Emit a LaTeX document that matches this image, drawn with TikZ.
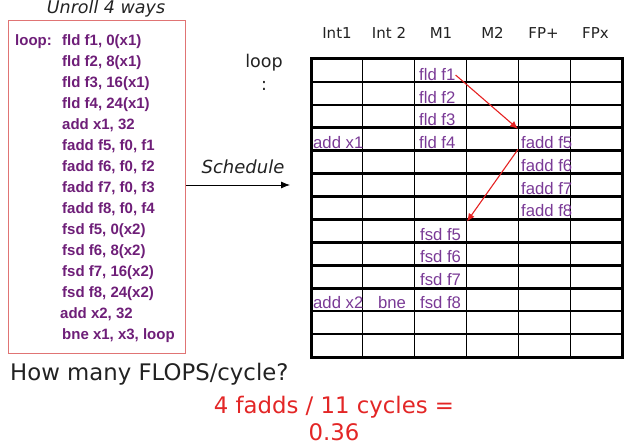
\documentclass[tikz,border=0pt]{standalone}
\usepackage{fontspec}
\setmainfont{Liberation Sans}
\newfontfamily\dvs{DejaVu Sans}
\usetikzlibrary{arrows.meta}
\definecolor{boxpurple}{HTML}{6E1E78}
\definecolor{cellpurple}{HTML}{7A3A96}
\definecolor{boxred}{HTML}{E07474}
\definecolor{arrred}{HTML}{E52222}
\definecolor{txtdark}{HTML}{222222}
\definecolor{ansred}{HTML}{E32626}
\begin{document}
\begin{tikzpicture}[x=1pt,y=-1pt,
  code/.style={anchor=base west, inner sep=0pt, text=boxpurple, font=\fontsize{15}{18}\selectfont\bfseries},
  cell/.style={anchor=base west, inner sep=0pt, text=cellpurple, font=\fontsize{16.7}{19}\selectfont},
  head/.style={anchor=base, inner sep=0pt, text=txtdark, font=\dvs\fontsize{15}{18}\selectfont},
  gridthin/.style={line width=1pt, black},
  gridthick/.style={line width=2.6pt, black},
  redarrow/.style={arrred, line width=1.1pt, -{Latex[length=8pt,width=7pt]}},
  blackarrow/.style={black, line width=0.8pt, -{Latex[length=9pt,width=7pt]}}]
\useasboundingbox (0,0) rectangle (630,444);

% left box
\node[draw=boxred, line width=1.1pt, minimum width=177pt, minimum height=333pt, anchor=north west, inner sep=0pt] (box) at (8,20) {};
\node[anchor=base, inner sep=0pt, text=txtdark, font=\dvs\itshape\fontsize{17.5}{20}\selectfont] (unroll) at (106,14) {Unroll 4 ways};

\node[code] (lp) at (15,45.5) {loop:};
\node[code] (i1) at (62,45.5) {fld f1, 0(x1)};
\node[code] (i2) at (62,66.5) {fld f2, 8(x1)};
\node[code] (i3) at (62,87.5) {fld f3, 16(x1)};
\node[code] (i4) at (62,108.5) {fld f4, 24(x1)};
\node[code] (i5) at (62,129.5) {add x1, 32};
\node[code] (i6) at (62,150.5) {fadd f5, f0, f1};
\node[code] (i7) at (62,171.5) {fadd f6, f0, f2};
\node[code] (i8) at (62,192.5) {fadd f7, f0, f3};
\node[code] (i9) at (62,213.5) {fadd f8, f0, f4};
\node[code] (i10) at (62,234.5) {fsd f5, 0(x2)};
\node[code] (i11) at (62,255.5) {fsd f6, 8(x2)};
\node[code] (i12) at (62,276.5) {fsd f7, 16(x2)};
\node[code] (i13) at (62,297.5) {fsd f8, 24(x2)};
\node[code] (i14) at (60,318.5) {add x2, 32};
\node[code] (i15) at (62,339.5) {bne x1, x3, loop};

% loop label and schedule arrow
\node[align=center, inner sep=0pt, text=txtdark, font=\dvs\fontsize{17.5}{23}\selectfont] (looplbl) at (264,72) {loop\\:};
\node[inner sep=0pt, text=txtdark, font=\dvs\itshape\fontsize{18}{22}\selectfont] (sched) at (243,167) {Schedule};
\coordinate (schedEnd) at (290,185);
\draw[blackarrow] (box.east |- schedEnd) -- (schedEnd);

% headers
\node[head] (h1) at (337,39) {Int1};
\node[head] (h2) at (389,39) {Int 2};
\node[head] (h3) at (441,39) {M1};
\node[head] (h4) at (492.5,39) {M2};
\node[head] (h5) at (543.5,39) {FP+};
\node[head] (h6) at (595.5,39) {FPx};

% grid
\foreach \i in {1,...,5} \draw[gridthin] (311+\i*51.833,59) -- (311+\i*51.833,357);
\foreach \j in {1,...,12} \draw[gridthick] (311,59+\j*22.923) -- (622,59+\j*22.923);
\draw[line width=3pt] (311,59) rectangle (622,357);

% cells
\node[cell] (fld1) at (419,81) {fld f1};
\node[cell] (fld2) at (419,103) {fld f2};
\node[cell] (fld3) at (419,125.5) {fld f3};
\node[cell] (fld4) at (419,148) {fld f4};
\node[cell] (addx1) at (313,148) {add x1};
\node[cell] (fadd5) at (521,148) {fadd f5};
\node[cell] (fadd6) at (521,171.5) {fadd f6};
\node[cell] (fadd7) at (521,194) {fadd f7};
\node[cell] (fadd8) at (521,216.5) {fadd f8};
\node[cell] (fsd5) at (420,240) {fsd f5};
\node[cell] (fsd6) at (420,262.5) {fsd f6};
\node[cell] (fsd7) at (420,285) {fsd f7};
\node[cell] (fsd8) at (420,308.5) {fsd f8};
\node[cell] (addx2) at (313,308.5) {add x2};
\node[cell, anchor=base] (bne) at (392,308.5) {bne};

% red dependency arrows
\coordinate (c1) at (518,129);
\coordinate (c2) at (467,221.5);
\draw[redarrow] (fld1.east) -- (c1);
\draw[redarrow] ([xshift=-3pt,yshift=-1pt]fadd5.south west) -- (c2);

% question and answer
\node[anchor=base west, inner sep=0pt, text=txtdark, font=\dvs\fontsize{22.8}{26}\selectfont] (q) at (10,380) {How many FLOPS/cycle?};
\node[align=center, inner sep=0pt, text=ansred, font=\dvs\fontsize{22.8}{27}\selectfont] (ans) at (334,418) {4 fadds / 11 cycles =\\0.36};
\end{tikzpicture}
\end{document}
